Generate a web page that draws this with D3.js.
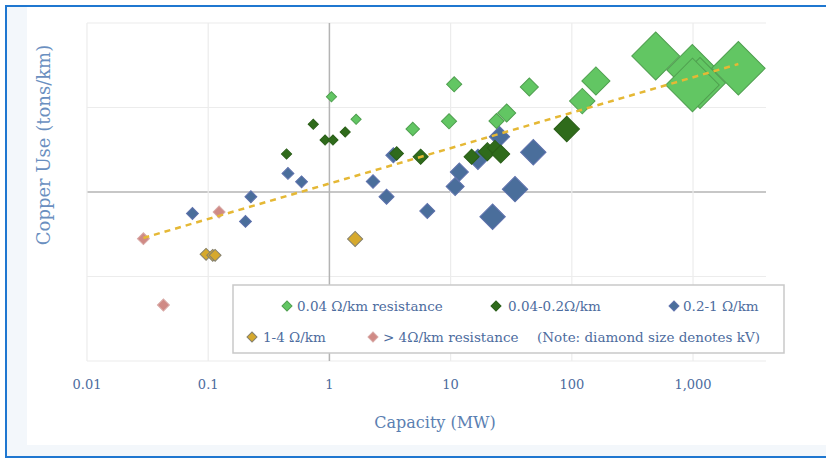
<!DOCTYPE html>
<html>
<head>
<meta charset="utf-8">
<script src="https://cdn.jsdelivr.net/npm/d3@7/dist/d3.min.js"></script>
<style>
  body { margin: 0; background: #fff; }
  text { font-family: "DejaVu Serif", serif; }
</style>
</head>
<body>
<svg id="chart" width="826" height="459"></svg>
<script>
// axis ticks
var xTicks = [0.01, 0.1, 1, 10, 100, 1000];
var xTickLabels = ["0.01", "0.1", "1", "10", "100", "1,000"];
var yGrid = [0.01, 0.1, 1, 10, 100];

// 0.04 ohm/km resistance
var greenCap = [1.04, 1.66, 4.87, 9.7, 10.7, 23.9, 29.0, 44.6, 122, 158, 492, 986, 1142, 990, 2366];
var greenCu  = [13.4, 7.25, 5.57, 6.87, 18.8, 6.92, 8.61, 17.5, 11.9, 20.6, 40.7, 27.8, 19.5, 18.5, 29.1];
var greenKv  = [1, 1, 6.6, 11, 11, 11, 22, 22, 66, 88, 345, 400, 400, 450, 450];

// 0.04-0.2 ohm/km
var dkGreenCap = [0.443, 0.736, 0.921, 1.07, 1.35, 3.59, 5.66, 14.9, 20.1, 23.2, 25.9, 90.8];
var dkGreenCu  = [2.82, 6.33, 4.12, 4.12, 5.13, 2.86, 2.62, 2.62, 3.0, 3.32, 2.82, 5.57];
var dkGreenKv  = [1, 1, 1, 1, 1, 6.6, 11, 11, 22, 11, 22, 66];

// 0.2-1 ohm/km
var blueCap = [0.0741, 0.225, 0.203, 0.455, 0.589, 2.29, 2.96, 3.37, 6.42, 10.9, 11.8, 16.8, 22.2, 25.3, 34.0, 48.1];
var blueCu  = [0.557, 0.879, 0.448, 1.66, 1.32, 1.33, 0.879, 2.72, 0.596, 1.16, 1.72, 2.44, 0.510, 4.51, 1.08, 2.95];
var blueKv  = [3.3, 3.3, 3.3, 3.3, 3.3, 6.6, 11, 11, 11, 22, 22, 33, 66, 33, 66, 66];

// 1-4 ohm/km
var goldCap = [0.096, 0.109, 0.114, 1.63];
var goldCu  = [0.183, 0.178, 0.178, 0.278];
var goldKv  = [3.3, 3.3, 3.3, 11];

// > 4 ohm/km resistance
var pinkCap = [0.0292, 0.123, 0.0427];
var pinkCu  = [0.280, 0.580, 0.046];
var pinkKv  = [3.3, 3.3, 3.3];

// trend line end points
var trendCap = [0.0292, 2366];
var trendCu  = [0.286, 32.7];

var series = [
  {name: "1-4 \u03A9/km", fill: "#d6a92d", stroke: "#84806e", cap: goldCap, cu: goldCu, kv: goldKv},
  {name: "> 4\u03A9/km resistance", fill: "#d08a85", stroke: "#d8a9a6", cap: pinkCap, cu: pinkCu, kv: pinkKv},
  {name: "0.2-1 \u03A9/km", fill: "#4a6e9b", stroke: "#5f72ad", cap: blueCap, cu: blueCu, kv: blueKv},
  {name: "0.04-0.2\u03A9/km", fill: "#2f6b1b", stroke: "#2a5e18", cap: dkGreenCap, cu: dkGreenCu, kv: dkGreenKv},
  {name: "0.04 \u03A9/km resistance", fill: "#62c663", stroke: "#4f9f4f", cap: greenCap, cu: greenCu, kv: greenKv}
];

var svg = d3.select("#chart");
var pLeft = 87, pRight = 766, pTop = 23, pBottom = 361;

var x = d3.scaleLog().domain([0.01, 4000]).range([pLeft, pRight]);
var y = d3.scaleLog().domain([0.01, 100]).range([pBottom, pTop]);
var r = d3.scaleSqrt().domain([0, 500]).range([4, 28]);

// frame
svg.append("rect").attr("x", 6).attr("y", 6).attr("width", 840).attr("height", 451)
  .attr("fill", "#f3f7fb").attr("stroke", "#1f77d0").attr("stroke-width", 2);
svg.append("rect").attr("x", 27).attr("y", 7).attr("width", 820).attr("height", 438)
  .attr("fill", "#fff");

// grid
svg.selectAll(".hgrid").data(yGrid).enter().append("line")
  .attr("x1", pLeft).attr("x2", pRight)
  .attr("y1", d => y(d)).attr("y2", d => y(d))
  .attr("stroke", d => d === 1 ? "#b4b4b4" : "#ececec")
  .attr("stroke-width", d => d === 1 ? 1.5 : 1.2);
svg.selectAll(".vgrid").data(xTicks).enter().append("line")
  .attr("x1", d => x(d)).attr("x2", d => x(d))
  .attr("y1", pTop).attr("y2", pBottom)
  .attr("stroke", d => d === 1 ? "#b4b4b4" : "#ececec")
  .attr("stroke-width", d => d === 1 ? 1.5 : 1.2);

// x tick labels
svg.selectAll(".xlab").data(xTicks).enter().append("text")
  .attr("x", d => x(d)).attr("y", 389)
  .attr("text-anchor", "middle")
  .attr("font-size", 13).attr("fill", "#4d6c9e")
  .text((d, i) => xTickLabels[i]);

// axis titles
svg.append("text").attr("x", 435).attr("y", 428).attr("text-anchor", "middle")
  .attr("font-size", 16).attr("fill", "#5b7fb2").text("Capacity (MW)");
svg.append("text").attr("transform", "translate(50,145) rotate(-90)").attr("text-anchor", "middle")
  .attr("font-size", 18).attr("fill", "#6a8fc0").text("Copper Use (tons/km)");

// points
var diamond = d3.symbol().type(d3.symbolSquare);
series.forEach(function (s) {
  var pts = s.cap.map((c, i) => ({cap: c, cu: s.cu[i], kv: s.kv[i]}));
  svg.append("g").selectAll("path").data(pts).enter().append("path")
    .attr("d", d => diamond.size(2 * r(d.kv) * r(d.kv))())
    .attr("transform", d => "translate(" + x(d.cap) + "," + y(d.cu) + ") rotate(45)")
    .attr("fill", s.fill).attr("stroke", s.stroke).attr("stroke-width", 1);
});

// trend line
var trend = trendCap.map((c, i) => [c, trendCu[i]]);
svg.append("path").datum(trend)
  .attr("d", d3.line().x(d => x(d[0])).y(d => y(d[1])))
  .attr("fill", "none").attr("stroke", "#e5b835").attr("stroke-width", 2.5)
  .attr("stroke-dasharray", "6,5");

// legend
var lg = svg.append("g");
lg.append("rect").attr("x", 233).attr("y", 285).attr("width", 551).attr("height", 68)
  .attr("fill", "#fff").attr("stroke", "#c9c9c9").attr("stroke-width", 1.5);
var legendItems = [
  {s: series[4], mx: 287, tx: 297, ty: 306},
  {s: series[3], mx: 496, tx: 508, ty: 306},
  {s: series[2], mx: 674, tx: 683, ty: 306},
  {s: series[0], mx: 252, tx: 263, ty: 337},
  {s: series[1], mx: 373, tx: 383, ty: 337}
];
legendItems.forEach(function (it) {
  lg.append("path").attr("d", diamond.size(50)())
    .attr("transform", "translate(" + it.mx + "," + it.ty + ") rotate(45)")
    .attr("fill", it.s.fill).attr("stroke", it.s.stroke);
  lg.append("text").attr("x", it.tx).attr("y", it.ty + 5).attr("font-size", 13.5)
    .attr("fill", "#4d6c9e").text(it.s.name);
});
lg.append("text").attr("x", 537).attr("y", 342).attr("font-size", 13.5)
  .attr("fill", "#4d6c9e").text("(Note: diamond size denotes kV)");
</script>
</body>
</html>
